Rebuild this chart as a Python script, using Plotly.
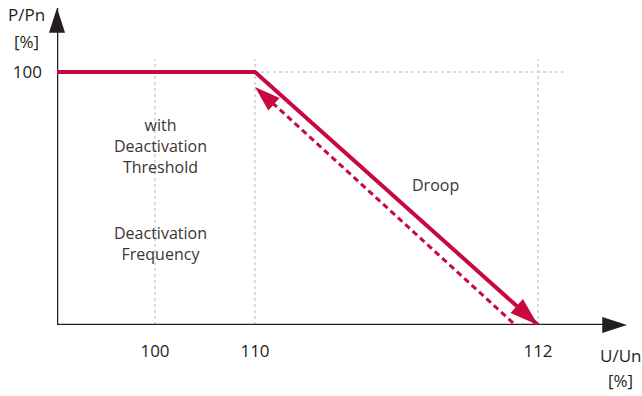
import plotly.graph_objects as go

# schematic axis: tick labels and where they sit on the (non-linear) U axis
u_ticks = ["100", "110", "112"]
u_pos = [0.98, 1.98, 4.81]
p_ticks = [100]

# droop characteristic (P/Pn in %)
curve_x = [0, 1.98, 4.81]
curve_p = [100, 100, 0]

# return path (dashed)
back_x = [4.56, 1.98]
back_p = [0.8, 94.1]

red = "#C8093F"
ink = "#231F20"
txt = "#3A3536"
font = "Open Sans"


def arrow_marker(sizes, color):
    return dict(symbol="arrow", size=sizes, angleref="previous", color=color,
                opacity=1, line=dict(width=0))


fig = go.Figure()

# dotted guide lines
for xp in u_pos:
    fig.add_shape(type="line", x0=xp, x1=xp, y0=0, y1=105,
                  line=dict(color="#CFCFCF", width=1.5, dash="dot"), layer="below")
fig.add_shape(type="line", x0=0, x1=5.07, y0=p_ticks[0], y1=p_ticks[0],
              line=dict(color="#CFCFCF", width=1.5, dash="dot"), layer="below")

# axes with arrowheads
fig.add_trace(go.Scatter(x=[0, 5.70], y=[0, 0], mode="lines+markers",
                         line=dict(color=ink, width=2.5), marker=arrow_marker([0, 26], ink),
                         cliponaxis=False, hoverinfo="skip"))
fig.add_trace(go.Scatter(x=[0, 0], y=[0, 125.3], mode="lines+markers",
                         line=dict(color=ink, width=2.5), marker=arrow_marker([0, 26], ink),
                         cliponaxis=False, hoverinfo="skip"))

# main curve
fig.add_trace(go.Scatter(x=curve_x, y=curve_p, mode="lines+markers",
                         line=dict(color=red, width=4), marker=arrow_marker([0, 0, 30], red),
                         cliponaxis=False, hoverinfo="skip"))

# dashed return
fig.add_trace(go.Scatter(x=back_x, y=back_p, mode="lines+markers",
                         line=dict(color=red, width=3, dash="6px,4px"),
                         marker=arrow_marker([0, 27], red),
                         cliponaxis=False, hoverinfo="skip"))

# labels inside
fig.add_annotation(x=1.03, y=70.8, text="with<br>Deactivation<br>Threshold", showarrow=False,
                   font=dict(size=16, color=txt, family=font))
fig.add_annotation(x=1.03, y=32.4, text="Deactivation<br>Frequency", showarrow=False,
                   font=dict(size=16, color=txt, family=font))
fig.add_annotation(x=3.78, y=55.3, text="Droop", showarrow=False,
                   font=dict(size=16, color=txt, family=font))

# axis titles
titles = [(-0.054, 0.978, "P/Pn"), (-0.054, 0.893, "[%]"),
          (0.988, -0.095, "U/Un"), (0.988, -0.174, "[%]")]
for tx, ty, t in titles:
    fig.add_annotation(xref="paper", yref="paper", x=tx, y=ty, text=t, showarrow=False,
                       xanchor="center", yanchor="middle",
                       font=dict(size=17, color=ink, family=font))

fig.update_xaxes(range=[0, 5.70], tickvals=u_pos, ticktext=u_ticks, showgrid=False,
                 zeroline=False, showline=False, ticks="", ticklabelstandoff=14,
                 automargin=False, tickfont=dict(size=17, color=ink, family=font))
fig.update_yaxes(range=[0, 125.3], tickvals=p_ticks, ticktext=[str(v) for v in p_ticks],
                 showgrid=False, zeroline=False, showline=False, ticks="", ticklabelstandoff=14,
                 automargin=False, tickfont=dict(size=17, color=ink, family=font))

fig.update_layout(width=642, height=396, showlegend=False,
                  margin=dict(l=57, r=15, t=8, b=71, autoexpand=False),
                  plot_bgcolor="white", paper_bgcolor="white")

fig.write_html("out.html", config={"displayModeBar": False},
               post_script="document.body.style.margin='0';")
